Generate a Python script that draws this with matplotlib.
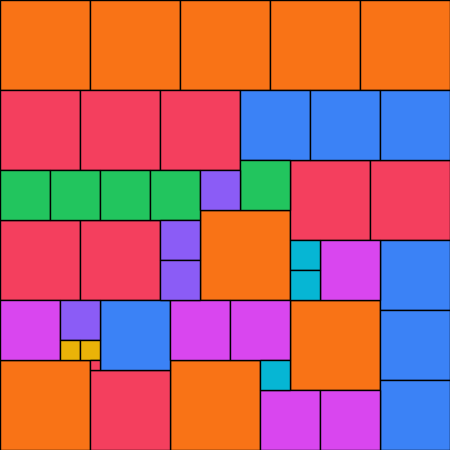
import matplotlib
matplotlib.use("Agg")
import matplotlib.pyplot as plt
from matplotlib.patches import Rectangle

# tile positions and sizes, in units of 10 px (partridge packing)
xs = [0, 9, 18, 27, 36, 20, 29, 0, 17,
      0, 8, 16, 29, 37, 0, 8, 9,
      24, 31, 38, 38, 10, 38, 38,
      32, 0, 17, 23, 26, 32,
      0, 5, 10, 15, 24,
      20, 16, 16, 6,
      29, 29, 26,
      6, 8,
      9]
ys = [0, 0, 0, 0, 0, 21, 30, 36, 36,
      9, 9, 9, 16, 16, 22, 22, 37,
      9, 9, 9, 24, 30, 31, 38,
      24, 30, 30, 30, 39, 39,
      17, 17, 17, 17, 16,
      17, 22, 26, 30,
      24, 27, 36,
      34, 34,
      36]
sizes = [9] * 9 + [8] * 8 + [7] * 7 + [6] * 6 + [5] * 5 + [4] * 4 + [3] * 3 + [2] * 2 + [1]

size_colors = {9: "#F97316", 8: "#F43F5E", 7: "#3B82F6", 6: "#D946EF",
               5: "#22C55E", 4: "#8B5CF6", 3: "#06B6D4", 2: "#EAB308", 1: "#F43F5E"}

fig = plt.figure(figsize=(4.5, 4.5), dpi=100)
ax = fig.add_axes([0, 0, 1, 1])
for x, y, s in zip(xs, ys, sizes):
    ax.add_patch(Rectangle((x, y), s, s, facecolor=size_colors[s],
                           edgecolor="black", linewidth=1))
ax.set_xlim(0, 45)
ax.set_ylim(45, 0)
ax.axis("off")
fig.savefig("out.png", dpi=100)
